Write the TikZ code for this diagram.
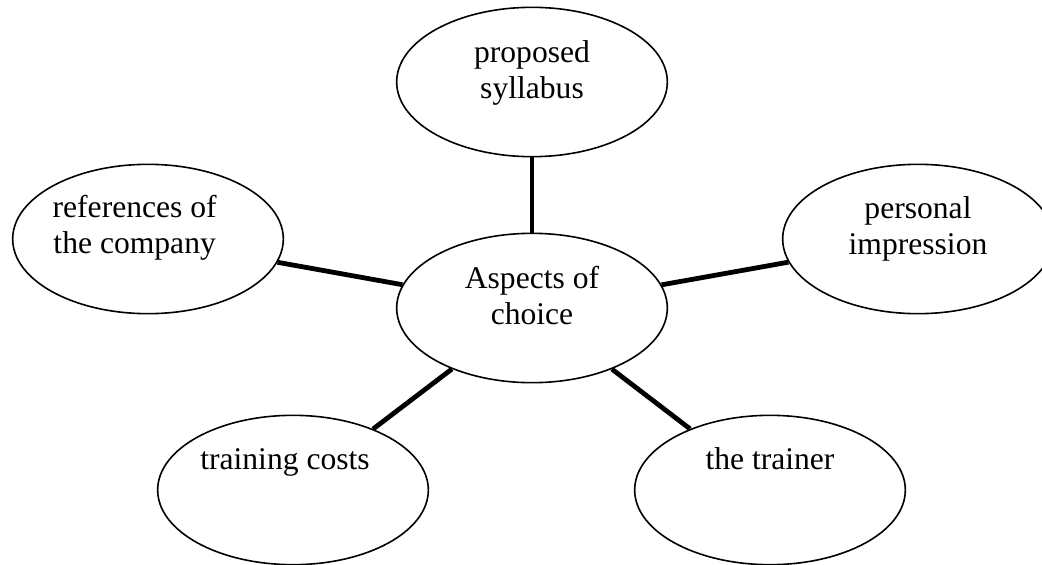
\documentclass[tikz,border=0pt]{standalone}
\usepackage{fontspec}
\setmainfont{Liberation Serif}
\usetikzlibrary{shapes.geometric,positioning}
\tikzset
{
    bubble/.style = {ellipse, draw=black, line width=1.2pt, minimum width=203pt, minimum height=112pt, inner sep=0pt},
    words/.style  = {align=center, inner sep=0pt, font=\fontsize{23.7}{27}\selectfont},
    link/.style   = {draw=black, line width=3.6pt}
}
\begin{document}
\begin{tikzpicture}[x=0.75pt, y=-0.75pt]
	\useasboundingbox (0,0) rectangle (1042,564);

	\node (asp)  [bubble] at (532,308) {};
	\node (syl)  [bubble] at (532,82)  {};
	\node (ref)  [bubble] at (148,239) {};
	\node (imp)  [bubble] at (918,239) {};
	\node (cost) [bubble] at (293,490) {};
	\node (trn)  [bubble] at (770,490) {};

	\node (asp-t)  [words, below=23pt of asp.north]  {\strut Aspects of\\ choice};
	\node (syl-t)  [words, below=23pt of syl.north]  {\strut proposed\\ syllabus};
	\node (ref-t)  [words, below=21pt of ref.north, xshift=-10pt] {\strut references of\\ the company};
	\node (imp-t)  [words, below=22pt of imp.north]  {\strut personal\\ impression};
	\node (cost-t) [words, below=22pt of cost.north, xshift=-6pt] {\strut training costs};
	\node (trn-t)  [words, below=22pt of trn.north]  {\strut the trainer};

	\draw [link] (asp) -- (syl);
	\draw [link] (asp) -- (ref);
	\draw [link] (asp) -- (imp);
	\draw [link] (asp) -- (cost);
	\draw [link] (asp) -- (trn);
\end{tikzpicture}
\end{document}
